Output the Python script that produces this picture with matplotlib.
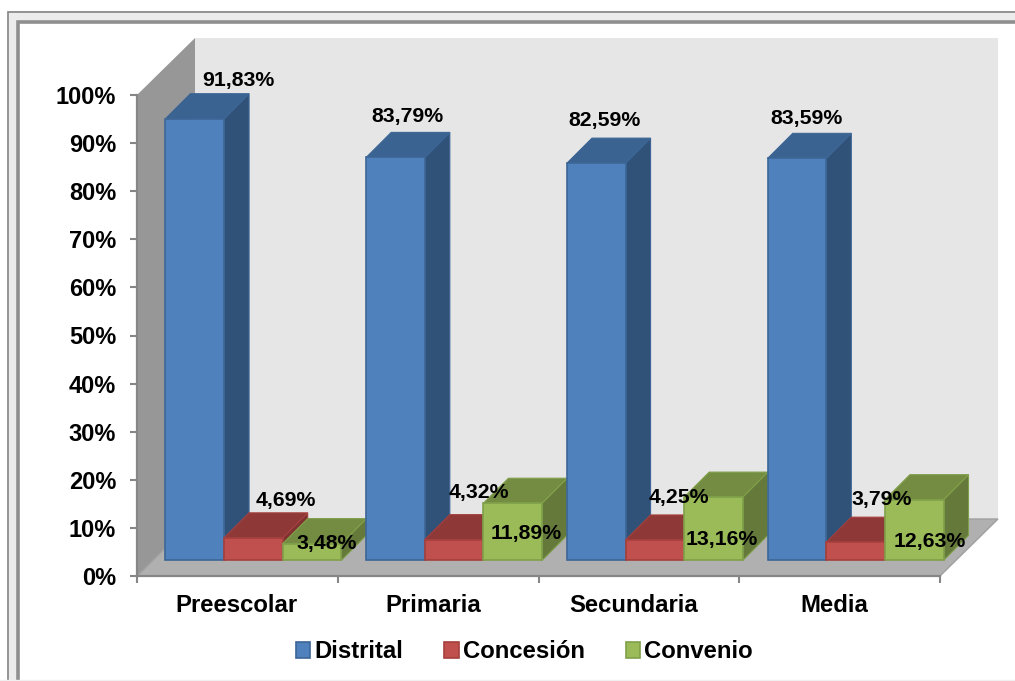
import numpy as np
import matplotlib
matplotlib.use('Agg')
import matplotlib.pyplot as plt
from matplotlib.patches import Polygon, Patch
from matplotlib.lines import Line2D

plt.rcParams['font.family'] = ['Liberation Sans', 'DejaVu Sans']
plt.rcParams['font.weight'] = 'bold'

categories = ['Preescolar', 'Primaria', 'Secundaria', 'Media']
series_names = ['Distrital', 'Concesión', 'Convenio']
distrital = [91.83, 83.79, 82.59, 83.59]
concesion = [4.69, 4.32, 4.25, 3.79]
convenio = [3.48, 11.89, 13.16, 12.63]
y_ticks = [0, 10, 20, 30, 40, 50, 60, 70, 80, 90, 100]

# front, top, side, edge
blue = ['#4f81bd', '#3b6391', '#305279', '#3d6696']
red = ['#c0504d', '#8e3937', '#7f3331', '#a5403d']
green = ['#9bbb59', '#748c42', '#64793a', '#80a04a']

# label offsets from the top centre of each bar, pixels
offs_distrital = [(43, 38), (11, 41), (7, 43), (9, 40)]
offs_concesion = [(31, 37), (24, 47), (23, 42), (25, 43)]
offs_convenio = [(14, 0), (12, -30), (7, -42), (15, -42)]

W, H = 1015, 681
fig = plt.figure(figsize=(W / 100, H / 100), dpi=100)
ax = fig.add_axes([137 / W, 1 - 576 / H, 803 / W, 481 / H])
ax.set_xlim(-0.5, 3.5)
ax.set_ylim(0, 100)
ax.patch.set_visible(False)

px_x = 4 / 803
px_y = 100 / 481
wall_dx, wall_dy = 58 * px_x, 57 * px_y
base_dx, base_dy = 16 * px_x, 15.6 * px_y
bar_dx, bar_dy = 25 * px_x, 25 * px_y
bar_w = 58.6 * px_x

# walls and floor
ax.add_patch(Polygon([(-0.5 + wall_dx, wall_dy), (3.5 + wall_dx, wall_dy), (3.5 + wall_dx, 100 + wall_dy),
                      (-0.5 + wall_dx, 100 + wall_dy)], fc='#e6e6e6', ec='none', clip_on=False, zorder=0))
ax.add_patch(Polygon([(-0.5, 0), (-0.5 + wall_dx, wall_dy), (-0.5 + wall_dx, 100 + wall_dy), (-0.5, 100)],
                     fc='#979797', ec='none', clip_on=False, zorder=1))
ax.add_patch(Polygon([(-0.5, 0), (3.5, 0), (3.5 + wall_dx, wall_dy), (-0.5 + wall_dx, wall_dy)],
                     fc='#b0b0b0', ec='#a0a0a0', lw=1, clip_on=False, zorder=1))

# bars, back to front
z = 3
x = np.arange(len(categories))
all_series = [(distrital, blue, offs_distrital), (concesion, red, offs_concesion), (convenio, green, offs_convenio)]
for i in x:
    for j, (vals, cols, offs) in enumerate(all_series):
        left = i + base_dx + (j - 1.5) * bar_w
        right = left + bar_w
        top = vals[i] + base_dy
        ax.add_patch(Polygon([(right, base_dy), (right + bar_dx, base_dy + bar_dy),
                              (right + bar_dx, top + bar_dy), (right, top)],
                             fc=cols[2], ec=cols[3], lw=0.8, clip_on=False, zorder=z))
        ax.add_patch(Polygon([(left, top), (right, top), (right + bar_dx, top + bar_dy), (left + bar_dx, top + bar_dy)],
                             fc=cols[1], ec=cols[3], lw=0.8, clip_on=False, zorder=z))
        ax.bar(left, vals[i], bar_w, bottom=base_dy, align='edge', color=cols[0], edgecolor=cols[3],
               linewidth=1.2, clip_on=False, zorder=z + 0.5)
        z += 1

# data labels on top of everything
for i in x:
    for j, (vals, cols, offs) in enumerate(all_series):
        left = i + base_dx + (j - 1.5) * bar_w
        ax.annotate(f'{vals[i]:.2f}%'.replace('.', ','),
                    xy=(left + bar_w / 2, vals[i] + base_dy),
                    xytext=(offs[i][0] * 0.72 + 0.7, offs[i][1] * 0.72), textcoords='offset points',
                    ha='center', va='center', fontsize=15.3, color='black', annotation_clip=False, zorder=50)

for s in ['top', 'right']:
    ax.spines[s].set_visible(False)
for s in ['left', 'bottom']:
    ax.spines[s].set_color('#868686')
    ax.spines[s].set_linewidth(1.6)
    ax.spines[s].set_zorder(2)
ax.set_yticks(y_ticks)
ax.set_yticklabels([f'{v}%' for v in y_ticks])
ax.set_xticks(np.arange(-0.5, 4, 1))
ax.set_xticklabels([])
ax.tick_params(axis='y', length=5, width=1.5, color='#868686', pad=10, labelsize=17)
ax.tick_params(axis='x', length=5, width=1.5, color='#868686')
for i, name in enumerate(categories):
    ax.annotate(name, xy=(i, 0), xytext=(-0.5 - 3 * (i > 0), -21.5), textcoords='offset points',
                ha='center', va='center', fontsize=17.2, annotation_clip=False)

handles = [Patch(fc=c[0], ec=c[3], lw=1.2) for c in (blue, red, green)]
leg = fig.legend(handles, series_names, loc='center', bbox_to_anchor=(524.5 / W, 1 - 652 / H), ncol=3, frameon=False,
                 fontsize=17.2, handlelength=0.6, handleheight=0.6, handletextpad=0.17, columnspacing=1.72,
                 borderpad=0, borderaxespad=0)


# picture frame around the chart
def frame_line(xs, ys, color, lw):
    fig.add_artist(Line2D([v / W for v in xs], [1 - v / H for v in ys], color=color, lw=lw,
                          solid_joinstyle='miter', transform=fig.transFigure))


frame_line([13, 13, W], [H, 16, 16], '#ececec', 7)
frame_line([8, 8, W], [H, 11.5, 11.5], '#8c8c8c', 1.3)
frame_line([18, 18, W], [H, 21.5, 21.5], '#8f8f8f', 2.6)
frame_line([0, W], [680, 680], '#f0f0f0', 1)

fig.savefig('out.png', dpi=100)
